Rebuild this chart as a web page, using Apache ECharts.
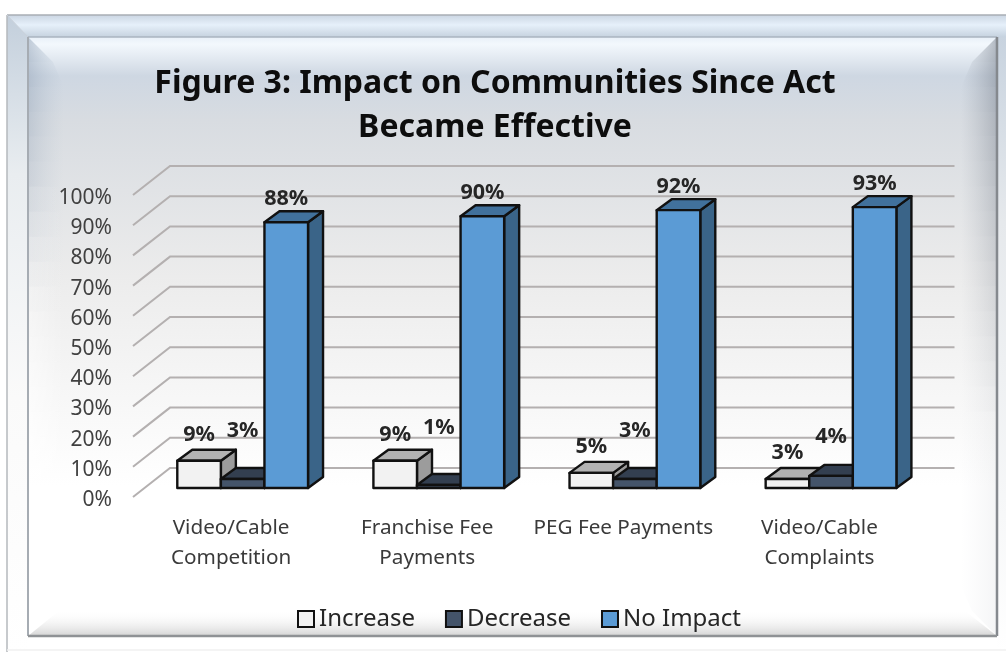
<!DOCTYPE html>
<html>
<head>
<meta charset="utf-8">
<style>html,body{margin:0;padding:0;background:#fff}#c{width:1006px;height:652px}</style>
<script src="https://cdn.jsdelivr.net/npm/echarts@6/dist/echarts.min.js"></script>
</head>
<body>
<div id="c"></div>
<script>
const categories = ['Video/Cable\nCompetition', 'Franchise Fee\nPayments', 'PEG Fee Payments', 'Video/Cable\nComplaints'];
const increase = [9, 9, 5, 3];
const decrease = [3, 1, 3, 4];
const noImpact = [88, 90, 92, 93];
const ticks = [0, 10, 20, 30, 40, 50, 60, 70, 80, 90, 100];

const FONT = '"Noto Sans", "Open Sans", sans-serif';
const WALL = [37, 29], SHIFT = [11.6, 9], BAR = [15, 11];
const decreaseLift = [48, 57, 48, 39];

function vg(stops, x0, y0, x1, y1) {
  return { type: 'linear', x: x0, y: y0, x2: x1, y2: y1, global: true,
    colorStops: stops.map(s => ({ offset: s[0], color: s[1] })) };
}
function poly(points, fill) {
  return { type: 'polygon', silent: true, shape: { points }, style: { fill } };
}
function line(x1, y1, x2, y2, stroke, w) {
  return { type: 'line', silent: true, shape: { x1, y1, x2, y2 }, style: { stroke, lineWidth: w || 1.5 } };
}
const frame = [
  poly([[7,15],[1006,15],[1006,37],[28,37]], vg([[0,'#cbd6e3'],[0.45,'#e6f0fa'],[1,'#c6d2df']],0,15,0,37)),
  poly([[7,15],[28,37],[28,652],[7,652]], vg([[0,'#c3cfdc'],[0.25,'#e9edf0'],[0.6,'#fafafa'],[1,'#ffffff']],0,15,0,652)),
  poly([[997,37],[1006,37],[1006,652],[997,652]], vg([[0,'#c8d3df'],[0.3,'#e6e9ec'],[1,'#ffffff']],0,37,0,652)),
  poly([[28,37],[997,37],[997,636],[28,636]], vg([[0,'#e8f0f8'],[0.012,'#f3f8fd'],[0.065,'#ced7e2'],[0.14,'#d8dce1'],[0.4,'#ececec'],[0.75,'#ffffff'],[1,'#ffffff']],0,37,0,636))
];
// Bevel strips fade along their length, so they are stacked in thin bands.
const BANDS = 24;
for (let i = 0; i < BANDS; i++) {
  const t0 = i / BANDS, t1 = (i + 1) / BANDS, yA = 37 + 599 * t0, yB = 37 + 599 * t1;
  const inset = y => y < 73 ? y - 37 : (y > 610 ? 636 - y : 36);
  const a = Math.max(0, 0.55 * (1 - t0 * 2.3));
  const w = Math.max(0, (t0 - 0.2) * 1.6);
  const r = 0.08 + 0.45 * Math.max(0, 1 - t0 * 1.6);
  frame.push(poly([[28,yA],[28+inset(yA),yA],[28+inset(yB),yB],[28,yB]],
    vg([[0,`rgba(150,166,186,${a})`],[1,'rgba(180,195,210,0)']],28,0,64,0)));
  frame.push(poly([[28,yA],[28+inset(yA),yA],[28+inset(yB),yB],[28,yB]],
    vg([[0,`rgba(255,255,255,${Math.min(0.8,w)})`],[1,'rgba(255,255,255,0)']],28,0,64,0)));
  frame.push(poly([[997,yA],[997-inset(yA),yA],[997-inset(yB),yB],[997,yB]],
    vg([[0,`rgba(120,128,140,${r})`],[1,'rgba(150,158,170,0)']],997,0,961,0)));
}
frame.push(
  poly([[28,636],[60,610],[964,610],[997,636]], vg([[0,'rgba(255,255,255,0)'],[1,'rgba(205,205,205,0.85)']],0,610,0,636)),
  line(7,15,1006,15,'#a9aeb5',1.5),
  line(7,15,7,652,'#b4b8bc',1.5),
  line(7,15,28,37,'#c8d0da',1),
  line(28,37,997,37,'#aab4c0',1.5),
  line(28,37,28,636,'#a6acb3',2),
  line(997,37,997,636,'#85898e',2.5),
  line(28,636,997,636,'#8f9295',2.5),
  line(7,650,1006,650,'#f0f0f0',1.5)
);

function renderWall(params, api) {
  const cs = params.coordSys;
  const y = api.coord([0, api.value(1)])[1];
  return {
    type: 'polyline',
    shape: { points: [[cs.x, y], [cs.x + WALL[0], y - WALL[1]], [cs.x + cs.width + WALL[0], y - WALL[1]]] },
    style: { fill: null, stroke: '#b4b0b0', lineWidth: 2 }
  };
}

function bar3d(offsetIndex, colors, labelFor) {
  return function (params, api) {
    const idx = api.value(0), v = api.value(1);
    const c0 = api.coord([idx, 0]), c1 = api.coord([idx, v]);
    const w = api.size([1, 0])[0] / 4.5;
    const x0 = c0[0] + SHIFT[0] + (offsetIndex - 1.5) * w, x1 = x0 + w;
    const yb = c0[1] - SHIFT[1], yt = c1[1] - SHIFT[1];
    const stroke = { stroke: '#111', lineWidth: 2.4, lineJoin: 'round' };
    return {
      type: 'group',
      children: [
        { type: 'polygon', shape: { points: [[x1, yb], [x1 + BAR[0], yb - BAR[1]], [x1 + BAR[0], yt - BAR[1]], [x1, yt]] }, style: Object.assign({ fill: colors[2] }, stroke) },
        { type: 'polygon', shape: { points: [[x0, yt], [x0 + BAR[0], yt - BAR[1]], [x1 + BAR[0], yt - BAR[1]], [x1, yt]] }, style: Object.assign({ fill: colors[1] }, stroke) },
        { type: 'rect', shape: { x: x0, y: yt, width: w, height: yb - yt }, style: Object.assign({ fill: colors[0] }, stroke) },
        { type: 'text', z2: 50, style: { text: v + '%', x: (x0 + x1) / 2, y: yt - labelFor(idx), align: 'center', verticalAlign: 'middle',
          font: 'bold 21.5px ' + FONT, fill: '#262626' } }
      ]
    };
  };
}
function toData(arr) { return arr.map((v, i) => [i, v]); }
function barSeries(name, arr, off, colors, labelFor) {
  return { name, type: 'custom', coordinateSystem: 'cartesian2d', data: toData(arr), encode: { x: 0, y: 1 },
    itemStyle: { color: colors[0], borderColor: '#111', borderWidth: 2 },
    renderItem: bar3d(off, colors, labelFor), clip: false, z: 3 + off };
}

const chart = echarts.init(document.getElementById('c'), null, { width: 1006, height: 652 });
chart.setOption({
  animation: false,
  backgroundColor: '#ffffff',
  graphic: { elements: frame },
  title: {
    text: 'Figure 3: Impact on Communities Since Act\nBecame Effective',
    left: 490, top: 57, textAlign: 'center',
    textStyle: { fontFamily: FONT, fontWeight: 'bold', fontSize: 32, lineHeight: 44, color: '#0d0d0d' }
  },
  legend: {
    data: ['Increase', 'Decrease', 'No Impact'],
    left: 292, top: 602, itemWidth: 16, itemHeight: 16, itemGap: 30, icon: 'rect',
    textStyle: { fontFamily: FONT, fontSize: 24, color: '#262626', padding: [0, 0, 0, 0] }
  },
  grid: { left: 133, top: 195, width: 784.5, height: 302 },
  xAxis: {
    type: 'category', data: categories,
    axisLine: { show: false }, axisTick: { show: false }, splitLine: { show: false },
    axisLabel: { interval: 0, margin: 16, fontFamily: FONT, fontSize: 20.7, lineHeight: 30, color: '#3a3a3a' }
  },
  yAxis: {
    type: 'value', min: 0, max: 100, interval: 10,
    axisLine: { show: false }, axisTick: { show: false }, splitLine: { show: false },
    axisLabel: { margin: 21, formatter: '{t|{value}%}',
      rich: { t: { fontFamily: FONT, fontSize: 21, color: '#404040', padding: [6, 0, 0, 0] } } }
  },
  series: [
    { type: 'custom', name: 'wall', coordinateSystem: 'cartesian2d', data: ticks.map(t => [0, t]), encode: { x: 0, y: 1 }, renderItem: renderWall, clip: false, silent: true, z: 2 },
    barSeries('Increase', increase, 0, ['#f2f2f2', '#b2b2b2', '#9c9c9c'], () => 26),
    barSeries('Decrease', decrease, 1, ['#44546a', '#333f50', '#333f50'], i => decreaseLift[i]),
    barSeries('No Impact', noImpact, 2, ['#5b9bd5', '#41719c', '#3a6488'], () => 23.5)
  ]
});
</script>
</body>
</html>
